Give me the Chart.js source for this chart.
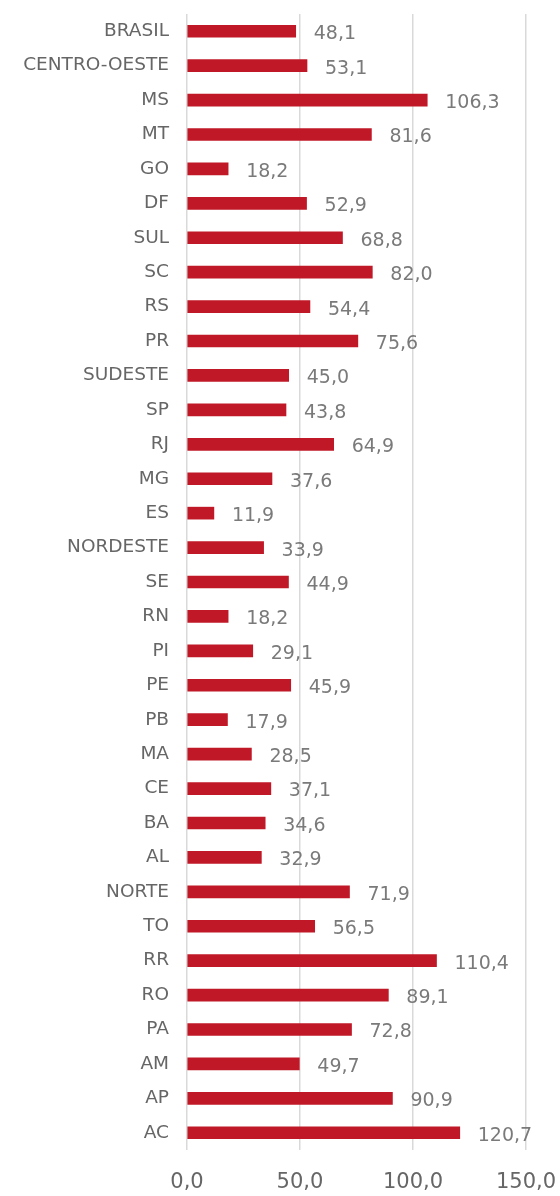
<!DOCTYPE html>
<html><head><meta charset="utf-8">
<script src="https://cdn.jsdelivr.net/npm/chart.js@4/dist/chart.umd.min.js"></script>
<style>html,body{margin:0;padding:0;background:#fff}#wrap{width:560px;height:1196px}</style>
</head><body><div id="wrap"><canvas id="c" width="560" height="1196"></canvas></div>
<script>
const categories = ["BRASIL","CENTRO-OESTE","MS","MT","GO","DF","SUL","SC","RS","PR","SUDESTE","SP","RJ","MG","ES","NORDESTE","SE","RN","PI","PE","PB","MA","CE","BA","AL","NORTE","TO","RR","RO","PA","AM","AP","AC"];
const values = [48.1,53.1,106.3,81.6,18.2,52.9,68.8,82.0,54.4,75.6,45.0,43.8,64.9,37.6,11.9,33.9,44.9,18.2,29.1,45.9,17.9,28.5,37.1,34.6,32.9,71.9,56.5,110.4,89.1,72.8,49.7,90.9,120.7];
const xTicks = [0,50,100,150];

const fmt = v => v.toFixed(1).replace('.', ',');
const FONT = "'DejaVu Sans', sans-serif";

const valueLabels = {
  id: 'valueLabels',
  afterDatasetsDraw(chart) {
    const ctx = chart.ctx;
    const meta = chart.getDatasetMeta(0);
    ctx.save();
    ctx.font = "19px " + FONT;
    ctx.fillStyle = "#7a7a7a";
    ctx.textAlign = "left";
    ctx.textBaseline = "middle";
    meta.data.forEach((bar, i) => {
      ctx.fillText(fmt(values[i]), bar.x + 18, bar.y + 3);
    });
    ctx.restore();
  }
};

function zeroPad(scale) {
  scale.paddingTop = 0; scale.paddingBottom = 0;
  scale.paddingLeft = 0; scale.paddingRight = 0;
}

new Chart(document.getElementById('c'), {
  type: 'bar',
  data: {
    labels: categories,
    datasets: [{
      data: values,
      backgroundColor: '#C01826',
      borderWidth: 0,
      barThickness: 12
    }]
  },
  options: {
    indexAxis: 'y',
    responsive: false,
    animation: false,
    layout: { padding: { top: 14, right: 34, left: 0, bottom: 0 } },
    plugins: { legend: { display: false }, tooltip: { enabled: false } },
    scales: {
      x: {
        min: 0, max: 150,
        afterBuildTicks(scale) { scale.ticks = xTicks.map(v => ({ value: v })); },
        afterFit(scale) { scale.height = 46; zeroPad(scale); },
        grid: { color: '#d9d9d9', lineWidth: 1.5, drawTicks: false },
        border: { display: false },
        ticks: {
          color: '#666666',
          font: { family: FONT, size: 21 },
          padding: 20,
          maxRotation: 0,
          callback: v => fmt(v)
        }
      },
      y: {
        afterFit(scale) { scale.width = 187; zeroPad(scale); },
        grid: { display: false, drawTicks: false },
        border: { display: false },
        ticks: {
          color: '#666666',
          font: { family: FONT, size: 18.5 },
          padding: 18,
          autoSkip: false
        }
      }
    }
  },
  plugins: [valueLabels]
});
</script></body></html>
